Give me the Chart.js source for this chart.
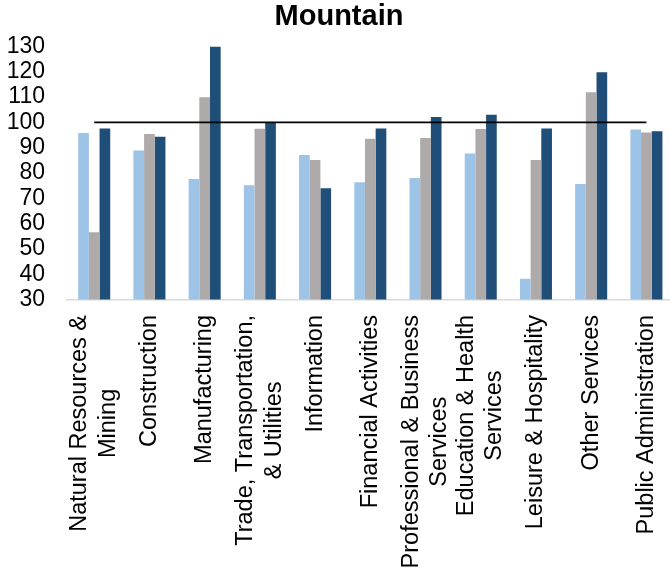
<!DOCTYPE html>
<html>
<head>
<meta charset="utf-8">
<script src="https://cdn.jsdelivr.net/npm/chart.js@4/dist/chart.umd.min.js"></script>
<style>
  html, body { margin: 0; padding: 0; background: #fff; overflow: hidden; }
  #wrap { width: 674px; height: 577px; position: relative; }
</style>
</head>
<body>
<div id="wrap"><canvas id="graphique"></canvas></div>
<script>
// Industries (line breaks are part of the label text)
const secteurs = [
    ["Natural Resources &", "Mining"],
    ["Construction"],
    ["Manufacturing"],
    ["Trade, Transportation,", "& Utilities"],
    ["Information"],
    ["Financial Activities"],
    ["Professional & Business", "Services"],
    ["Education & Health", "Services"],
    ["Leisure & Hospitality"],
    ["Other Services"],
    ["Public Administration"]
];

// Three bar series
const serieClair = [95.8, 88.9, 77.6, 75.1, 87.1, 76.3, 78.0, 87.7, 38.2, 75.6, 97.2];
const serieGris  = [56.6, 95.4, 109.9, 97.5, 85.1, 93.5, 93.8, 97.4, 85.1, 111.9, 96.0];
const serieFonce = [97.6, 94.3, 130.0, 100.0, 74.0, 97.6, 102.1, 103.0, 97.6, 119.8, 96.5];

// Reference level drawn as a flat line
const reference = secteurs.map(() => 100);

const yTicks = { min: 30, max: 130, step: 10 };

const policeTexte = "'Liberation Sans', Arial, sans-serif";

// Rotated category labels, lines centred inside the label block
const etiquettesX = {
    id: 'etiquettesX',
    afterDraw(chart) {
        const ctx = chart.ctx;
        const xScale = chart.scales.x;
        const haut = xScale.top + 15.5;
        const pas = 28.4;
        ctx.save();
        ctx.font = "23.5px " + policeTexte;
        ctx.fillStyle = '#000';
        ctx.textAlign = 'center';
        ctx.textBaseline = 'middle';
        secteurs.forEach((lignes, i) => {
            const x = xScale.getPixelForValue(i);
            const largeur = Math.max(...lignes.map(l => ctx.measureText(l).width));
            ctx.save();
            ctx.translate(x, haut + largeur / 2);
            ctx.rotate(-Math.PI / 2);
            lignes.forEach((l, k) => {
                ctx.fillText(l, 0, (k - (lignes.length - 1) / 2) * pas);
            });
            ctx.restore();
        });
        ctx.restore();
    }
};

const ctx = document.getElementById('graphique').getContext('2d');

new Chart(ctx, {
    type: 'bar',
    data: {
        labels: secteurs.map(l => l.join(' ')),
        datasets: [
            { type: 'line', data: reference, borderColor: '#000', borderWidth: 1.6,
              pointRadius: 0, fill: false, order: 0 },
            { data: serieClair, backgroundColor: '#9DC3E6', order: 1 },
            { data: serieGris, backgroundColor: '#AEAAAA', order: 1 },
            { data: serieFonce, backgroundColor: '#1F4E79', order: 1 }
        ]
    },
    options: {
        responsive: true,
        maintainAspectRatio: false,
        animation: false,
        datasets: {
            bar: { categoryPercentage: 0.58, barPercentage: 1.0, borderWidth: 0 }
        },
        layout: { padding: { left: 4, right: 0, top: 0, bottom: 0 } },
        plugins: {
            legend: { display: false },
            tooltip: { enabled: false },
            title: {
                display: true,
                text: 'Mountain',
                color: '#000',
                font: { family: policeTexte, size: 29, weight: 'bold', lineHeight: 1.2 },
                padding: { top: 0, bottom: 11.6 }
            }
        },
        scales: {
            x: {
                grid: { display: false, drawTicks: false },
                border: { display: true, color: '#d9d9d9', width: 1.5 },
                ticks: { display: false },
                afterFit(scale) { scale.height = 277.5; }
            },
            y: {
                min: yTicks.min,
                max: yTicks.max,
                grid: { display: false, drawTicks: false },
                border: { display: false },
                ticks: {
                    stepSize: yTicks.step,
                    autoSkip: false,
                    padding: 21.6,
                    color: '#000',
                    font: { family: policeTexte, size: 23 }
                },
                afterFit(scale) { scale.width = 62.6; }
            }
        }
    },
    plugins: [etiquettesX]
});
</script>
</body>
</html>
